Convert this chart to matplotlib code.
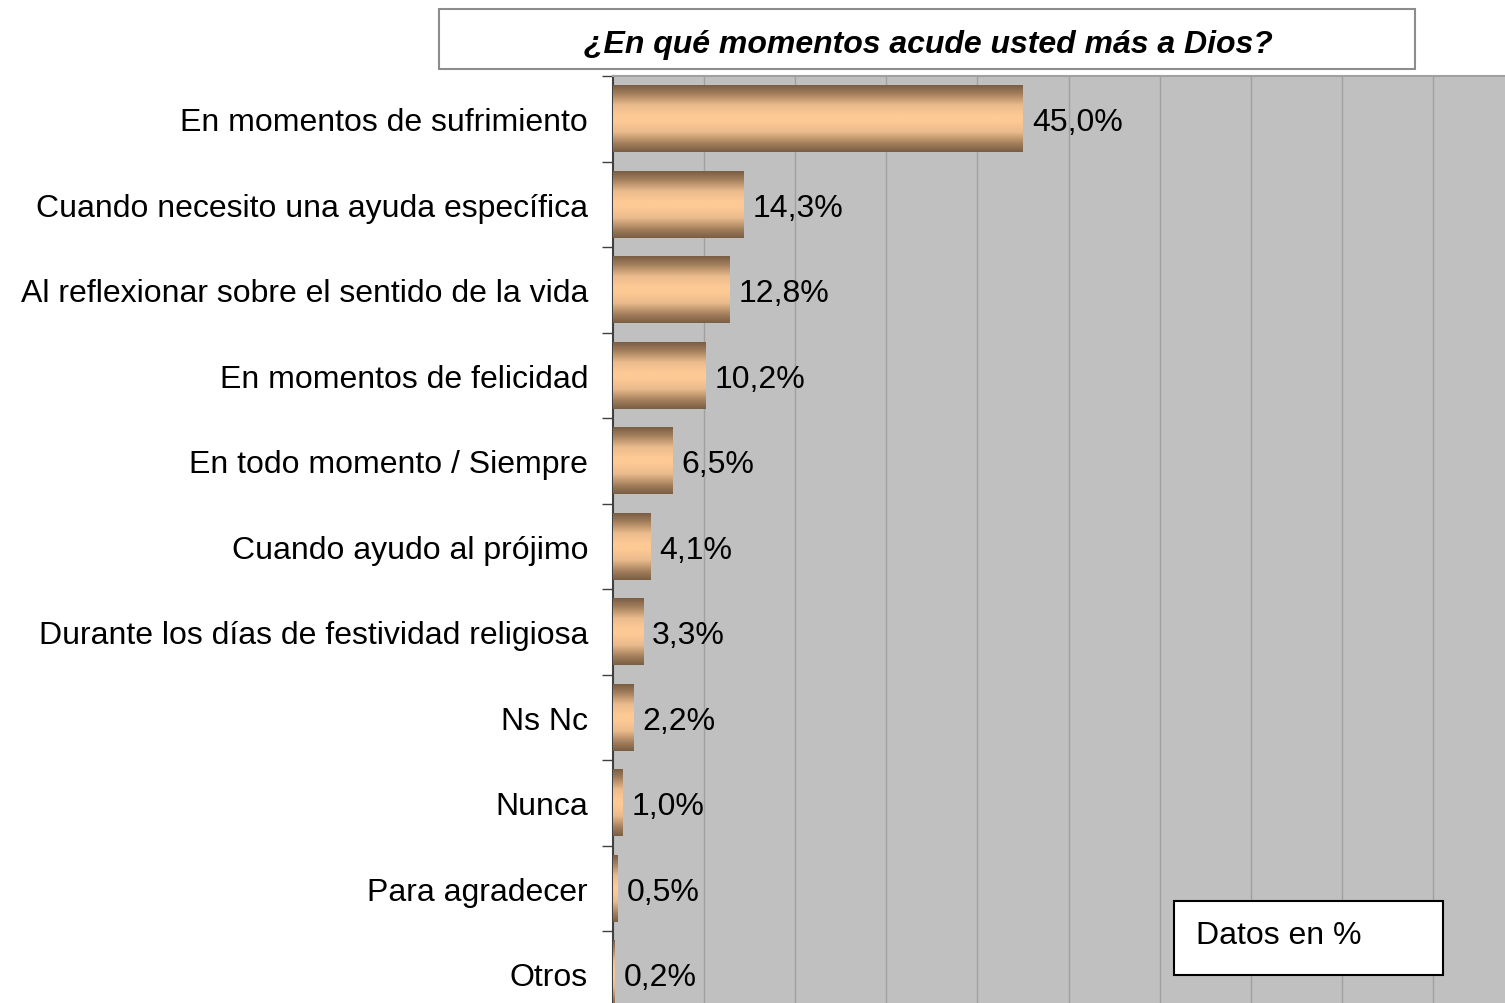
import matplotlib
matplotlib.use("Agg")
import matplotlib.pyplot as plt
import numpy as np
from matplotlib.colors import LinearSegmentedColormap
from matplotlib.patches import Rectangle

plt.rcParams["font.family"] = ["Liberation Sans", "DejaVu Sans"]

categories = [
    "En momentos de sufrimiento",
    "Cuando necesito una ayuda específica",
    "Al reflexionar sobre el sentido de la vida",
    "En momentos de felicidad",
    "En todo momento / Siempre",
    "Cuando ayudo al prójimo",
    "Durante los días de festividad religiosa",
    "Ns Nc",
    "Nunca",
    "Para agradecer",
    "Otros",
]
values = [45.0, 14.3, 12.8, 10.2, 6.5, 4.1, 3.3, 2.2, 1.0, 0.5, 0.2]
title = "¿En qué momentos acude usted más a Dios?"
note = "Datos en %"

FS = 23
W, H = 1505, 1004
fig = plt.figure(figsize=(W / 100, H / 100), dpi=100)

# plot area: left edge at x=613, top at y=77, runs off the right and bottom edges
ax_left, ax_top, ax_bottom = 613, 77, 1017.5
ax = fig.add_axes([ax_left / W, 1 - ax_bottom / H, (W - ax_left) / W, (ax_bottom - ax_top) / H])
ax.set_facecolor("#c0c0c0")

bar_cmap = LinearSegmentedColormap.from_list(
    "cyl",
    [(0.0, "#7a5e44"), (0.12, "#a07c5a"), (0.3, "#eabb8c"), (0.45, "#fdc995"),
     (0.55, "#fdc995"), (0.7, "#eabb8c"), (0.88, "#a07c5a"), (1.0, "#7a5e44")],
)
grad = np.linspace(0, 1, 256).reshape(-1, 1)

bar_h = 0.78
ypos = np.arange(len(categories))
for y, v in zip(ypos, values):
    ax.imshow(grad, cmap=bar_cmap, aspect="auto", interpolation="bilinear",
              extent=[0, v, y + bar_h / 2, y - bar_h / 2], zorder=3)
    ax.text(v + 1.0, y, f"{v:.1f}%".replace(".", ","), va="center_baseline", ha="left",
            fontsize=FS, color="black", zorder=4)

ax.set_xlim(0, (W - ax_left) / 9.11)
ax.set_ylim(len(categories) - 0.5, -0.5)

ax.set_xticks(np.arange(10, 100, 10))
ax.set_xticklabels([])
ax.tick_params(axis="x", length=0)
ax.grid(axis="x", color="#a0a0a0", linewidth=1.0, zorder=1)
ax.set_axisbelow(True)

ax.set_yticks(ypos)
ax.set_yticklabels(categories, fontsize=FS)
ax.tick_params(axis="y", length=0, pad=18)
for lbl in ax.get_yticklabels():
    lbl.set_verticalalignment("center_baseline")
ax.set_yticks(np.arange(-0.5, len(categories), 1), minor=True)
ax.tick_params(axis="y", which="minor", length=8, width=1, color="#404040", direction="out")

for s in ["right", "bottom"]:
    ax.spines[s].set_visible(False)
ax.spines["left"].set_color("#404040")
ax.spines["left"].set_linewidth(1.5)
ax.spines["top"].set_color("#a0a0a0")
ax.spines["top"].set_linewidth(1.5)

# title box
fig.patches.append(Rectangle((439 / W, 1 - 70 / H), (1415 - 439) / W, 60 / H,
                             transform=fig.transFigure, facecolor="white",
                             edgecolor="#8c8c8c", linewidth=1.5))
fig.text(928 / W, 1 - 41 / H, title, ha="center", va="center_baseline", fontsize=FS,
         fontweight="bold", fontstyle="italic")

# note box
fig.patches.append(Rectangle((1174 / W, 1 - 976 / H), (1443 - 1174) / W, 74 / H,
                             transform=fig.transFigure, facecolor="white",
                             edgecolor="black", linewidth=1.5, zorder=5))
fig.text(1196 / W, 1 - 933 / H, note, ha="left", va="center_baseline", fontsize=FS, zorder=6)

fig.savefig("out.png", dpi=100)
